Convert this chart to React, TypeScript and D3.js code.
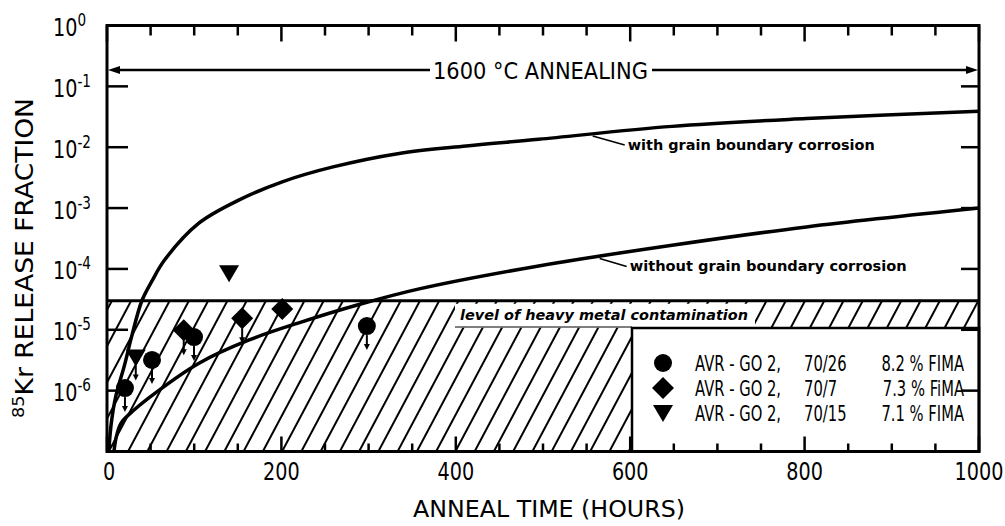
import React from 'react';
import * as d3 from 'd3';

// ---- data ----------------------------------------------------------------
// x axis (anneal time, hours)
const xMajorTicks = [0, 200, 400, 600, 800, 1000];
const xMinorTicks = [50, 100, 150, 250, 300, 350, 450, 500, 550, 650, 700, 750, 850, 900, 950];
// y axis decades (release fraction)
const yDecades = [0, -1, -2, -3, -4, -5, -6, -7];
const yLabelDecades = [0, -1, -2, -3, -4, -5, -6];

// calculated release curves: [hours, fraction]
const withCorrosion: [number, number][] = [
  [2, 1e-7], [5, 3e-7], [10, 8e-7], [20, 2.6e-6], [28, 7.5e-6], [40, 3.0e-5],
  [52, 6.5e-5], [66, 1.4e-4], [105, 5.6e-4], [151, 1.35e-3], [201, 2.7e-3],
  [258, 4.7e-3], [335, 7.9e-3], [412, 1.05e-2], [495, 1.35e-2], [648, 2.2e-2],
  [802, 2.95e-2], [1000, 3.9e-2],
];
const withoutCorrosion: [number, number][] = [
  [8, 1e-7], [10.5, 1.7e-7], [16, 2.9e-7], [28.7, 4.5e-7], [56, 9.3e-7],
  [105, 2.8e-6], [163, 6.8e-6], [220, 1.3e-5], [289, 2.6e-5], [358, 4.7e-5],
  [495, 1.12e-4], [648, 2.45e-4], [802, 4.9e-4], [1000, 1.0e-3],
];

// measured release fractions
const circleHours = [20.6, 51.6, 99.8, 298];
const circleValues = [1.1e-6, 3.2e-6, 7.6e-6, 1.15e-5];
const circleUpperLimit = [true, true, true, true];

const diamondHours = [88, 155, 201];
const diamondValues = [9.8e-6, 1.55e-5, 2.2e-5];
const diamondUpperLimit = [true, true, false];

const triangleHours = [33, 140];
const triangleValues = [3.5e-6, 8.5e-5];
const triangleUpperLimit = [true, false];

// heavy metal contamination level
const contaminationLevel = 3.0e-5;

// legend rows
const legendSymbols = ['circle', 'diamond', 'triangle'];
const legendSamples = ['AVR - GO 2,', 'AVR - GO 2,', 'AVR - GO 2,'];
const legendElements = ['70/26', '70/7', '70/15'];
const legendBurnup = ['8.2 % FIMA', '7.3 % FiMA', '7.1 % FIMA'];

// ---- drawing -------------------------------------------------------------
const W = 1005;
const H = 526;
const FONT = "'DejaVu Sans', sans-serif";

const left = 107;
const right = 979;
const top = 25.5;
const bottom = 451.5;

const x = d3.scaleLinear().domain([0, 1000]).range([left, right]);
const y = d3.scaleLog().domain([1e-7, 1]).range([bottom, top]);

const curve = d3
  .line<[number, number]>()
  .x((d) => x(d[0]))
  .y((d) => y(d[1]))
  .curve(d3.curveCatmullRom.alpha(0.5));

// log-space interpolation along a curve, used to anchor label leaders
function valueAt(series: [number, number][], h: number): number {
  const i = d3.bisector((d: [number, number]) => d[0]).left(series, h);
  const a = series[Math.max(0, i - 1)];
  const b = series[Math.min(series.length - 1, i)];
  if (a[0] === b[0]) return a[1];
  const t = (h - a[0]) / (b[0] - a[0]);
  return Math.pow(10, Math.log10(a[1]) + t * (Math.log10(b[1]) - Math.log10(a[1])));
}

// condensed lettering: DejaVu Sans squeezed horizontally
function Narrow({
  x: tx,
  y: ty,
  size,
  k = 0.8,
  anchor = 'start',
  weight = 'normal',
  children,
}: {
  x: number;
  y: number;
  size: number;
  k?: number;
  anchor?: string;
  weight?: string;
  children: React.ReactNode;
}) {
  return (
    <text
      transform={`translate(${tx},${ty}) scale(${k},1)`}
      fontFamily={FONT}
      fontSize={size}
      fontWeight={weight}
      textAnchor={anchor}
      fill="#000"
    >
      {children}
    </text>
  );
}

function Marker({ kind, cx, cy }: { kind: string; cx: number; cy: number }) {
  if (kind === 'circle') return <circle cx={cx} cy={cy} r={9} fill="#000" />;
  if (kind === 'diamond') {
    const s = 11;
    return (
      <polygon
        points={`${cx},${cy - s} ${cx + s},${cy} ${cx},${cy + s} ${cx - s},${cy}`}
        fill="#000"
      />
    );
  }
  const w = 10;
  return (
    <polygon
      points={`${cx - w},${cy - 8} ${cx + w},${cy - 8} ${cx},${cy + 9}`}
      fill="#000"
    />
  );
}

function LimitArrow({ cx, cy }: { cx: number; cy: number }) {
  return (
    <g>
      <line x1={cx} y1={cy} x2={cx} y2={cy + 12} stroke="#000" strokeWidth={2} />
      <polygon points={`${cx - 3},${cy + 9} ${cx + 3},${cy + 9} ${cx},${cy + 15}`} fill="#000" />
    </g>
  );
}

function Series({
  kind,
  hours,
  values,
  limits,
  gap,
}: {
  kind: string;
  hours: number[];
  values: number[];
  limits: boolean[];
  gap: number;
}) {
  return (
    <g>
      {hours.map((h, i) => (
        <g key={i}>
          {limits[i] && <LimitArrow cx={x(h)} cy={y(values[i]) + gap} />}
          <Marker kind={kind} cx={x(h)} cy={y(values[i])} />
        </g>
      ))}
    </g>
  );
}

export default function App() {
  const hatchTop = y(contaminationLevel);
  const annealY = 70;

  const upperLabelH = 557;
  const lowerLabelH = 565;
  const ux = x(upperLabelH);
  const uy = y(valueAt(withCorrosion, upperLabelH));
  const lx = x(lowerLabelH);
  const ly = y(valueAt(withoutCorrosion, lowerLabelH));

  const legendX = 632;
  const legendY = 328;
  const rowY = [363, 388, 413];

  return (
    <svg
      width={W}
      height={H}
      viewBox={`0 0 ${W} ${H}`}
      style={{ position: 'absolute', left: 0, top: 0, background: '#fff' }}
    >
      <defs>
        <pattern
          id="hatch"
          width={17}
          height={20}
          patternUnits="userSpaceOnUse"
          patternTransform="rotate(28)"
        >
          <line x1={2} y1={0} x2={2} y2={20} stroke="#000" strokeWidth={2} />
        </pattern>
      </defs>

      <rect x={0} y={0} width={W} height={H} fill="#fff" />

      {/* contamination band */}
      <rect x={left} y={hatchTop} width={right - left} height={bottom - hatchTop} fill="url(#hatch)" />
      <line x1={left} x2={right} y1={hatchTop} y2={hatchTop} stroke="#000" strokeWidth={3} />

      {/* label panel inside the band */}
      <rect x={455} y={hatchTop + 3} width={300} height={24} fill="#fff" />
      <line x1={455} x2={legendX} y1={legendY - 1} y2={legendY - 1} stroke="#000" strokeWidth={1} />
      <text
        x={460}
        y={hatchTop + 19}
        fontFamily={FONT}
        fontStyle="italic"
        fontWeight="bold"
        fontSize={14}
        textLength={288}
        lengthAdjust="spacingAndGlyphs"
        fill="#000"
      >
        level of heavy metal contamination
      </text>

      {/* legend */}
      <rect
        x={legendX}
        y={legendY}
        width={right - legendX}
        height={bottom - legendY}
        fill="#fff"
        stroke="#000"
        strokeWidth={2.5}
      />
      {legendSymbols.map((s, i) => (
        <g key={s}>
          <Marker kind={s} cx={663} cy={rowY[i]} />
          <Narrow x={695} y={rowY[i] + 7.5} size={20.5} k={0.72}>
            {legendSamples[i]}
          </Narrow>
          <Narrow x={804} y={rowY[i] + 7.5} size={20.5} k={0.72}>
            {legendElements[i]}
          </Narrow>
          <Narrow x={964} y={rowY[i] + 7.5} size={20.5} k={0.72} anchor="end">
            {legendBurnup[i]}
          </Narrow>
        </g>
      ))}

      {/* calculated curves */}
      <path d={curve(withCorrosion) || ''} fill="none" stroke="#000" strokeWidth={3.5} />
      <path d={curve(withoutCorrosion) || ''} fill="none" stroke="#000" strokeWidth={3.5} />

      {/* curve labels */}
      <path
        d={`M${ux},${uy + 2} L${ux + 32},${uy + 11}`}
        stroke="#000"
        strokeWidth={1.5}
        fill="none"
      />
      <text
        x={ux + 35}
        y={uy + 16}
        fontFamily={FONT}
        fontWeight="bold"
        fontSize={14}
        textLength={247}
        lengthAdjust="spacingAndGlyphs"
        fill="#000"
      >
        with grain boundary corrosion
      </text>
      <path
        d={`M${lx},${ly + 2} L${lx + 27},${ly + 10}`}
        stroke="#000"
        strokeWidth={1.5}
        fill="none"
      />
      <text
        x={lx + 30}
        y={ly + 15}
        fontFamily={FONT}
        fontWeight="bold"
        fontSize={14}
        textLength={277}
        lengthAdjust="spacingAndGlyphs"
        fill="#000"
      >
        without grain boundary corrosion
      </text>

      {/* measured points */}
      <Series kind="circle" hours={circleHours} values={circleValues} limits={circleUpperLimit} gap={9} />
      <Series kind="diamond" hours={diamondHours} values={diamondValues} limits={diamondUpperLimit} gap={10} />
      <Series kind="triangle" hours={triangleHours} values={triangleValues} limits={triangleUpperLimit} gap={8} />

      {/* annealing span */}
      <line x1={left + 8} x2={430} y1={annealY} y2={annealY} stroke="#000" strokeWidth={2.5} />
      <line x1={652} x2={right - 8} y1={annealY} y2={annealY} stroke="#000" strokeWidth={2.5} />
      <polygon points={`${left + 1},${annealY} ${left + 13},${annealY - 4} ${left + 13},${annealY + 4}`} fill="#000" />
      <polygon points={`${right - 1},${annealY} ${right - 13},${annealY - 4} ${right - 13},${annealY + 4}`} fill="#000" />
      <text
        x={433}
        y={annealY + 8.5}
        fontFamily={FONT}
        fontSize={23}
        textLength={215}
        lengthAdjust="spacingAndGlyphs"
        fill="#000"
      >
        1600 °C  ANNEALING
      </text>

      {/* frame */}
      <rect x={left} y={top} width={right - left} height={bottom - top} fill="none" stroke="#000" strokeWidth={3} />

      {/* x ticks, top and bottom, pointing inward */}
      {xMajorTicks.map((t) => (
        <g key={`M${t}`}>
          <line x1={x(t)} x2={x(t)} y1={top} y2={top + 16} stroke="#000" strokeWidth={2.5} />
          <line x1={x(t)} x2={x(t)} y1={bottom} y2={bottom - 15} stroke="#000" strokeWidth={2.5} />
          <Narrow x={x(t) + (t === 0 ? 2 : 0)} y={480} size={24} k={0.8} anchor="middle">
            {t}
          </Narrow>
        </g>
      ))}
      {xMinorTicks.map((t) => (
        <g key={`m${t}`}>
          <line x1={x(t)} x2={x(t)} y1={top} y2={top + 10} stroke="#000" strokeWidth={2.5} />
          <line x1={x(t)} x2={x(t)} y1={bottom} y2={bottom - 8} stroke="#000" strokeWidth={2.5} />
        </g>
      ))}

      {/* y ticks, left and right */}
      {yDecades.map((e) => (
        <g key={`y${e}`}>
          <line x1={left} x2={left + 21} y1={y(10 ** e)} y2={y(10 ** e)} stroke="#000" strokeWidth={2.5} />
          <line x1={right} x2={right - 18} y1={y(10 ** e)} y2={y(10 ** e)} stroke="#000" strokeWidth={2.5} />
        </g>
      ))}
      {yLabelDecades.map((e) => (
        <Narrow key={`l${e}`} x={53} y={y(10 ** e) + 10.5} size={24} k={0.8}>
          <tspan>10</tspan>
          <tspan dy={-10} fontSize={17}>
            {e === 0 ? '0' : `-${-e}`}
          </tspan>
        </Narrow>
      ))}

      {/* axis titles */}
      <text
        x={413}
        y={517}
        fontFamily={FONT}
        fontSize={23}
        textLength={272}
        lengthAdjust="spacingAndGlyphs"
        fill="#000"
      >
        ANNEAL  TIME   (HOURS)
      </text>
      <text
        transform="translate(33,418) rotate(-90)"
        fontFamily={FONT}
        fontSize={24}
        textLength={320}
        lengthAdjust="spacingAndGlyphs"
        fill="#000"
      >
        <tspan fontSize={16} dy={-9}>85</tspan>
        <tspan dy={9}>Kr  RELEASE  FRACTION</tspan>
      </text>
    </svg>
  );
}
